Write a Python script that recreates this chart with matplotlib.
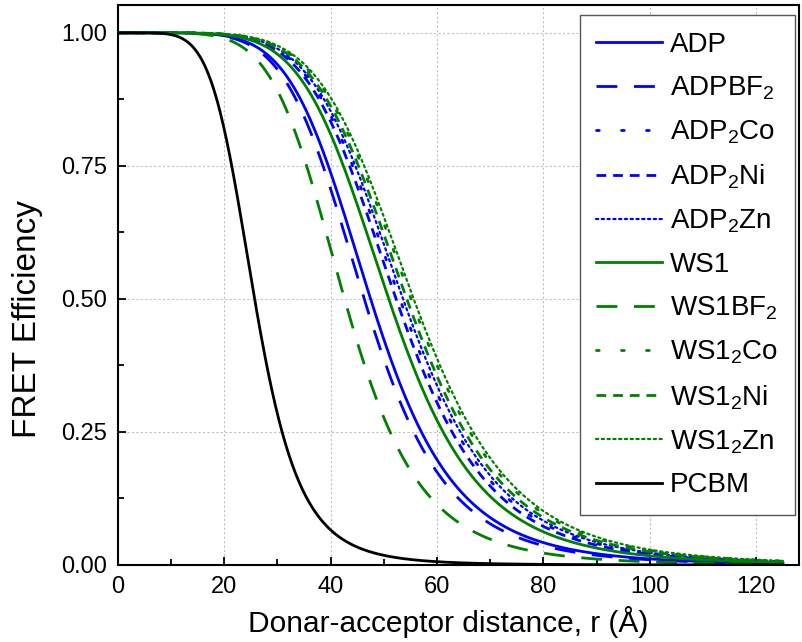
import numpy as np
import matplotlib
matplotlib.use("Agg")
import matplotlib.pyplot as plt
from matplotlib.ticker import MultipleLocator

plt.rcParams['font.family'] = ['Liberation Sans', 'DejaVu Sans']
plt.rcParams['mathtext.default'] = 'regular'

# Forster radii R0 (A) (where E = 0.5)
labels = ['ADP', 'ADPBF$_2$', 'ADP$_2$Co', 'ADP$_2$Ni', 'ADP$_2$Zn',
          'WS1', 'WS1BF$_2$', 'WS1$_2$Co', 'WS1$_2$Ni', 'WS1$_2$Zn', 'PCBM']
r0_values = [47.5, 46.3, 53.0, 52.3, 53.6, 50.9, 42.6, 55.1, 54.3, 55.6, 25.7]
colors = ['blue'] * 5 + ['green'] * 5 + ['black']
styles = ['-', (0, (7.5, 6)), (0, (1, 8)), (0, (3.5, 2.5)), (0, (1, 1.6)),
          '-', (0, (7.5, 6)), (0, (1, 8)), (0, (3.5, 2.5)), (0, (1, 1.6)), '-']

r_max = 125
r = np.linspace(0, r_max, 600)

fig = plt.figure(figsize=(8.02, 6.42), dpi=100)
ax = fig.add_axes([0.147, 0.12, 0.849, 0.872])

for lab, r0, c, ls in zip(labels, r0_values, colors, styles):
    eff = 1.0 / (1.0 + (r / r0) ** 6)
    lw = 1.6 if ls == (0, (1, 1.6)) else 2.0
    ax.plot(r, eff, color=c, linestyle=ls, lw=lw, label=lab,
            dash_capstyle='round' if ls in [(0, (1, 8)), (0, (1, 1.6))] else 'butt')

ax.set_xlim(0, 128)
ax.set_ylim(0, 1.052)
ax.xaxis.set_major_locator(MultipleLocator(20))
ax.xaxis.set_minor_locator(MultipleLocator(10))
ax.yaxis.set_major_locator(MultipleLocator(0.25))
ax.yaxis.set_minor_locator(MultipleLocator(0.125))
ax.yaxis.set_major_formatter(matplotlib.ticker.FormatStrFormatter('%.2f'))
ax.tick_params(which='both', direction='in', labelsize=17, width=1.3)
ax.tick_params(which='major', length=6, pad=8)
ax.tick_params(which='minor', length=4)
ax.grid(True, which='major', color='#c0c0c0', linestyle=(0, (2, 2)), lw=0.8)
for s in ax.spines.values():
    s.set_linewidth(1.5)

ax.set_xlabel('Donar-acceptor distance, r (Å)', fontsize=21.5, labelpad=6)
ax.set_ylabel('FRET Efficiency', fontsize=24, labelpad=13)
ax.xaxis.label.set_x(0.485)
ax.yaxis.label.set_y(0.44)

leg = ax.legend(loc='upper right', fontsize=20, fancybox=False, framealpha=1,
                edgecolor='#555555', handlelength=2.35, labelspacing=0.6,
                borderpad=0.6, borderaxespad=0, handletextpad=0.3,
                bbox_to_anchor=(795 / 802, 1 - 15 / 642),
                bbox_transform=fig.transFigure)
leg.get_frame().set_linewidth(1.0)

fig.savefig('out.png', dpi=100)
